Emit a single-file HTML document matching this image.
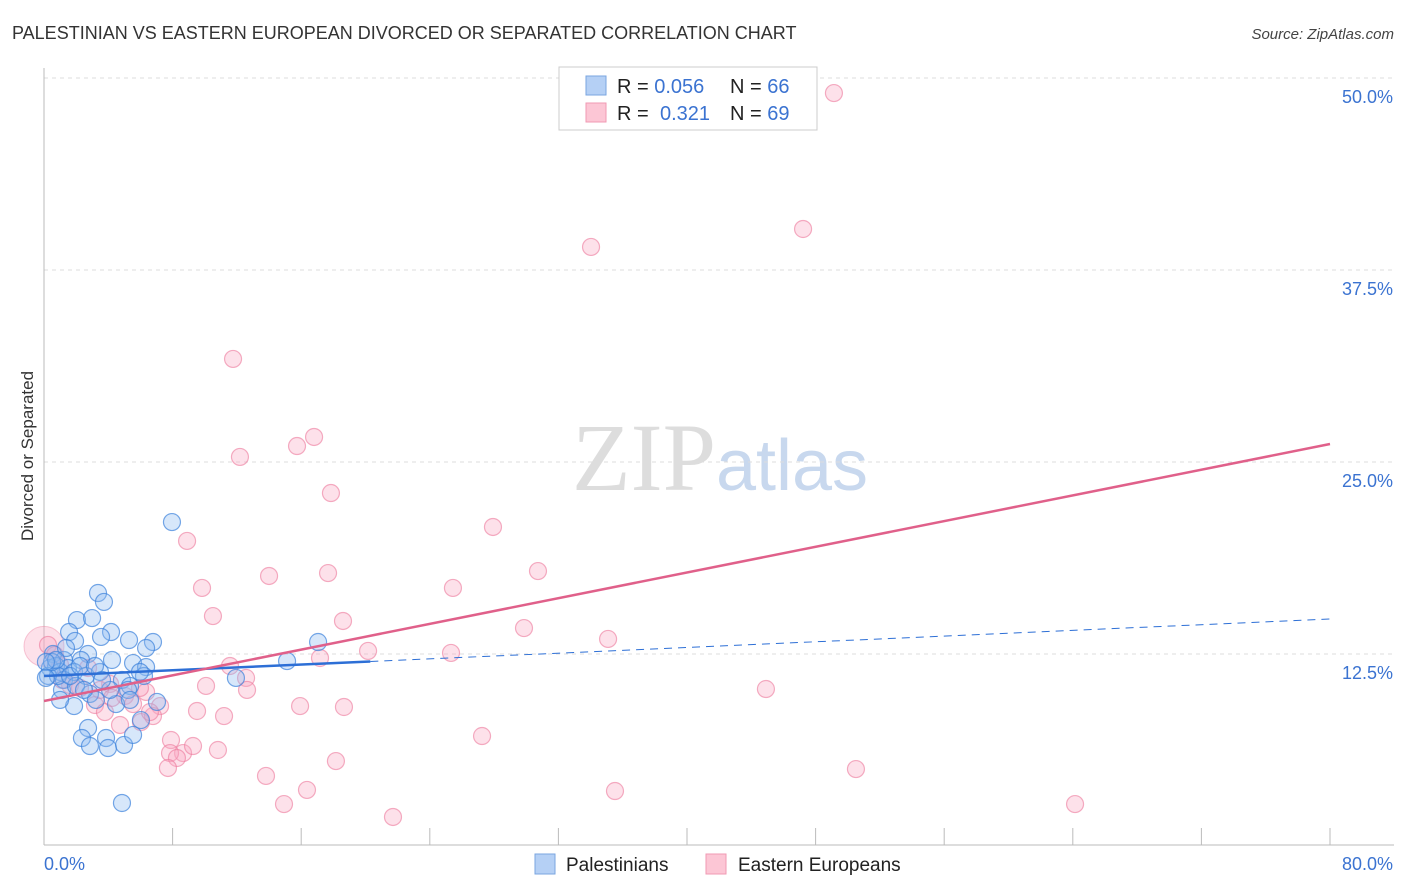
<!DOCTYPE html>
<html><head><meta charset="utf-8"><style>
body{margin:0;background:#fff;font-family:"Liberation Sans",sans-serif}
svg{display:block}
</style></head><body>
<svg id="chart" width="1406" height="892" xmlns="http://www.w3.org/2000/svg">
<text x="12" y="39" font-size="18" fill="#333">PALESTINIAN VS EASTERN EUROPEAN DIVORCED OR SEPARATED CORRELATION CHART</text>
<text x="1394" y="39" font-size="15" fill="#444" text-anchor="end" font-style="italic">Source: ZipAtlas.com</text>
<text x="720" y="490" font-size="96" text-anchor="middle" fill="#ddd" font-family="Liberation Serif,serif">ZIP<tspan fill="#c8d8ee" font-family="Liberation Sans,sans-serif" font-size="72">atlas</tspan></text>
<g id="grid"></g><g id="axes"></g><g id="pts"></g><g id="lines"></g>
<text transform="translate(33,456) rotate(-90)" font-size="17" fill="#333" text-anchor="middle">Divorced or Separated</text>
<g>
<rect x="559" y="67" width="258" height="63" fill="#fff" stroke="#ccc"/>
<rect x="586" y="76" width="20" height="19" fill="#b5d0f5" stroke="#7aa6e0"/>
<rect x="586" y="103" width="20" height="19" fill="#fcc6d5" stroke="#f09ab3"/>
<text x="617" y="93" font-size="20" fill="#222">R = <tspan fill="#3b73d1">0.056</tspan><tspan x="730">N = </tspan><tspan fill="#3b73d1">66</tspan></text>
<text x="617" y="120" font-size="20" fill="#222">R = <tspan x="660" fill="#3b73d1">0.321</tspan><tspan x="730">N = </tspan><tspan fill="#3b73d1">69</tspan></text>
</g>
<g>
<rect x="535" y="854" width="20" height="20" fill="#b5d0f5" stroke="#7aa6e0"/>
<text x="566" y="871" font-size="19" fill="#222">Palestinians</text>
<rect x="706" y="854" width="20" height="20" fill="#fcc6d5" stroke="#f09ab3"/>
<text x="738" y="871" font-size="19" fill="#222">Eastern Europeans</text>
</g>
</svg>
<script>
const blueX=[7.96,3.36,3.73,2.05,2.99,1.56,1.93,4.17,3.55,5.29,6.78,6.35,2.74,0.56,1.24,2.30,5.54,6.35,15.12,17.05,11.94,0.37,0.75,1.00,1.49,1.87,2.61,3.48,4.85,5.35,6.22,0.25,1.24,1.12,1.99,2.86,3.23,4.48,1.87,2.74,2.36,2.86,3.86,3.98,4.98,5.54,6.03,7.03,4.85,0.87,1.62,0.50,2.49,4.11,5.23,1.00,1.37,0.75,0.12,0.12,2.24,3.17,4.23,5.97,5.35,3.61];
const blueY=[21.09,16.47,15.89,14.71,14.84,13.93,13.35,13.93,13.61,13.41,13.28,12.89,12.50,12.50,12.11,12.11,11.91,11.65,12.04,13.28,10.94,11.59,11.72,11.33,11.59,11.33,11.07,11.33,10.81,10.42,11.07,11.07,10.81,10.16,10.42,9.90,9.51,9.24,9.11,7.68,7.03,6.51,7.03,6.38,6.58,7.23,8.20,9.38,2.80,11.07,11.07,11.98,10.16,10.16,10.16,9.51,12.89,12.11,11.98,10.94,11.72,11.72,12.11,11.33,9.51,10.81];
const pinkX=[49.14,34.03,47.22,11.76,16.80,15.74,12.19,17.85,27.93,8.90,30.73,14.00,17.67,9.83,25.44,10.51,18.60,29.86,35.09,25.32,20.16,17.17,11.57,12.57,10.08,12.63,6.35,44.91,0.25,0.68,1.00,1.62,2.24,4.11,5.04,5.54,7.22,9.52,11.20,15.93,18.66,3.17,3.79,4.73,6.03,6.78,7.90,8.65,9.27,7.84,8.27,10.82,7.71,18.16,27.25,13.81,16.36,14.93,21.71,35.52,50.51,64.14,1.12,2.74,6.59,3.48,4.23,5.97];
const pinkY=[49.02,39.00,40.17,31.71,26.63,26.04,25.33,22.98,20.77,19.86,17.90,17.58,17.77,16.80,16.80,14.97,14.65,14.19,13.48,12.57,12.70,12.24,11.72,10.94,10.42,10.16,10.03,10.22,13.09,12.43,11.78,10.48,10.29,10.55,9.77,9.24,9.11,8.79,8.46,9.11,9.05,9.18,8.72,7.88,8.07,8.46,6.90,6.05,6.51,6.05,5.73,6.25,5.08,5.53,7.16,4.56,3.65,2.73,1.89,3.58,5.01,2.73,10.81,11.59,8.72,10.16,9.64,10.29];
const yTicks=[12.5,25,37.5,50];
const yTickLabels=["12.5%","25.0%","37.5%","50.0%"];
const blueTrend=[11.07,14.78];
const pinkTrend=[9.44,26.17];
const NS="http://www.w3.org/2000/svg";
const sx=v=>44+v*16.075, sy=v=>846-v*15.36;
function mk(tag,a,p){const e=document.createElementNS(NS,tag);for(const k in a)e.setAttribute(k,a[k]);document.getElementById(p).appendChild(e);return e;}
yTicks.forEach((t,i)=>{
 const g=mk('line',{x1:44,x2:1394,y1:sy(t),y2:sy(t),stroke:'#ddd','stroke-dasharray':'4,4'},'grid');
 
 
 const l=mk('text',{x:1393,y:sy(t)+25,'font-size':18,fill:'#3b73d1','text-anchor':'end'},'axes');
 l.textContent=yTickLabels[i];
 
 
});
const ax=mk('line',{x1:44,x2:44,y1:68,y2:845,stroke:'#bbb'},'axes');


const bx=mk('line',{x1:44,x2:1394,y1:845,y2:845,stroke:'#bbb'},'axes');


for(let v=8;v<=80;v+=8){const t=mk('line',{x1:sx(v),x2:sx(v),y1:828,y2:845,stroke:'#bbb'},'axes');
 
 }
[[0,'0.0%','start',44],[80,'80.0%','end',1393]].forEach(d=>{const t=mk('text',{x:d[3],y:870,'font-size':18,fill:'#3b73d1','text-anchor':d[2]},'axes');t.textContent=d[1];
 
 });
const big=mk('circle',{cx:sx(0),cy:sy(13),r:20,fill:'rgba(248,170,195,0.35)',stroke:'rgba(236,120,155,0.4)'},'pts');


pinkX.forEach((x,i)=>{const c=mk('circle',{cx:sx(x),cy:sy(pinkY[i]),r:8.5,fill:'rgba(248,170,195,0.35)',stroke:'rgba(236,120,155,0.6)','stroke-width':1.2},'pts');
 
 });
blueX.forEach((x,i)=>{const c=mk('circle',{cx:sx(x),cy:sy(blueY[i]),r:8.5,fill:'rgba(140,185,240,0.35)',stroke:'rgba(60,130,220,0.7)','stroke-width':1.2},'pts');
 
 });
const by=x=>blueTrend[0]+(blueTrend[1]-blueTrend[0])*x/80;
const l1=mk('line',{x1:sx(0),y1:sy(by(0)),x2:sx(20.3),y2:sy(by(20.3)),stroke:'#2d6fd6','stroke-width':2.5},'lines');


const l2=mk('line',{x1:sx(20.3),y1:sy(by(20.3)),x2:sx(80),y2:sy(by(80)),stroke:'#2d6fd6','stroke-width':1,'stroke-dasharray':'8,6'},'lines');


const l3=mk('line',{x1:sx(0),y1:sy(pinkTrend[0]),x2:sx(80),y2:sy(pinkTrend[1]),stroke:'#e0608a','stroke-width':2.5},'lines');


</script>
</body></html>
